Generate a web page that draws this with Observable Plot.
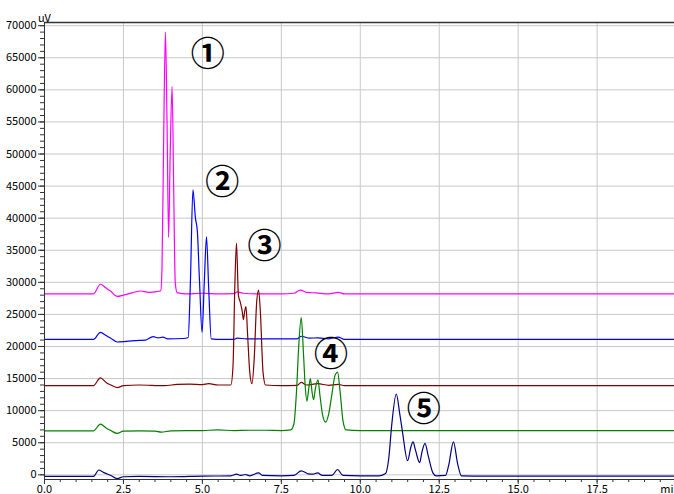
<!DOCTYPE html>
<html>
<head>
<meta charset="utf-8">
<script src="https://cdn.jsdelivr.net/npm/d3@7"></script>
<script src="https://cdn.jsdelivr.net/npm/@observablehq/plot@0.6"></script>
<style>
  html, body { margin: 0; padding: 0; background: #fff; overflow: hidden; }
</style>
</head>
<body>
<div id="chart"></div>
<script>
// ---- data (time in min, signal in uV) ----
const trace1 = [[0,28200],[1.55,28200],[1.77,29700],[1.95,29100],[2.1,28600],[2.3,27800],[2.5,28000],[2.8,28400],[3.05,28650],[3.3,28450],[3.55,28550],[3.68,28700],[3.72,32000],[3.78,55000],[3.83,69000],[3.88,55000],[3.93,37000],[3.98,50000],[4.04,60500],[4.09,45000],[4.14,30000],[4.2,28400],[4.5,28200],[5.0,28300],[5.5,28200],[6.0,28250],[6.1,28500],[6.3,28300],[6.8,28200],[7.5,28200],[7.9,28300],[8.1,28800],[8.3,28450],[8.6,28350],[9.0,28200],[9.3,28450],[9.5,28200],[10,28200],[12,28200],[15,28200],[19.95,28200]];
const trace2 = [[0,21100],[1.55,21100],[1.77,22200],[1.95,21700],[2.1,21300],[2.3,20700],[2.6,20800],[3.0,20950],[3.2,21000],[3.44,21550],[3.6,21350],[3.75,21450],[3.9,21200],[4.4,21250],[4.55,21400],[4.62,30000],[4.70,44400],[4.78,40000],[4.84,38000],[4.91,30000],[4.99,22200],[5.06,30000],[5.13,37100],[5.2,29000],[5.28,21200],[5.6,21100],[6.0,21100],[6.1,21300],[6.4,21200],[8.0,21200],[8.13,21600],[8.4,21300],[8.65,21350],[9.0,21200],[9.3,21450],[9.5,21100],[12,21100],[15,21100],[19.95,21100]];
const trace3 = [[0,13900],[1.55,13900],[1.77,15100],[1.95,14400],[2.1,14000],[2.3,13600],[2.5,13900],[3.0,14000],[3.8,13900],[4.2,14100],[4.6,14150],[5.0,14050],[5.2,14200],[5.5,14000],[5.9,14000],[5.97,17000],[6.03,30000],[6.08,36100],[6.14,28000],[6.20,26900],[6.26,25500],[6.30,24200],[6.34,25500],[6.38,26200],[6.43,22000],[6.5,16000],[6.57,14200],[6.64,18000],[6.72,27000],[6.78,28800],[6.84,25000],[6.92,16000],[7.0,14000],[7.5,13900],[8.0,13950],[8.13,14400],[8.3,14000],[8.65,14200],[9.0,13950],[9.3,14100],[9.5,13900],[12,13900],[15,13900],[19.95,13900]];
const trace4 = [[0,6850],[1.55,6850],[1.77,7900],[1.95,7300],[2.1,6900],[2.3,6450],[2.5,6800],[3.0,6850],[3.5,6800],[3.7,6650],[4.0,6850],[5.0,6900],[5.5,7000],[6.0,6900],[6.5,6950],[7.0,6950],[7.5,6900],[7.8,7000],[7.9,8000],[7.98,13000],[8.05,20000],[8.13,24500],[8.2,19000],[8.26,13500],[8.31,11500],[8.37,13500],[8.42,15000],[8.47,13000],[8.52,11700],[8.58,13500],[8.66,14800],[8.72,12500],[8.8,9500],[8.9,8200],[9.0,9500],[9.1,12500],[9.2,15500],[9.28,16000],[9.36,13000],[9.45,8500],[9.55,7000],[10,6900],[12,6900],[15,6900],[19.95,6900]];
const trace5 = [[0,-250],[1.55,-250],[1.72,750],[1.9,300],[2.1,-100],[2.3,-580],[2.5,-300],[3.0,-250],[4.0,-300],[5.0,-200],[5.9,-150],[6.08,100],[6.2,-100],[6.36,50],[6.5,-150],[6.78,300],[6.9,-100],[7.5,-150],[7.9,-100],[8.13,620],[8.35,150],[8.5,100],[8.65,300],[8.8,-100],[9.1,-100],[9.28,830],[9.45,-100],[10.0,-150],[10.6,-150],[10.8,200],[10.9,2500],[11.0,8000],[11.14,12600],[11.25,9500],[11.33,6900],[11.5,2200],[11.6,4300],[11.67,5150],[11.75,3800],[11.88,1900],[11.95,3500],[12.05,4900],[12.15,3000],[12.3,300],[12.4,-150],[12.7,-100],[12.8,1500],[12.95,5150],[13.08,1800],[13.2,-150],[14,-200],[19.95,-200]];

const traces = [trace1, trace2, trace3, trace4, trace5];
const traceColors = ["#ff00ff", "#0000ff", "#800000", "#008000", "#000080"];

const peakLabels = ["①", "②", "③", "④", "⑤"];
const peakLabelX = [5.17, 5.63, 6.97, 9.07, 12.01];
const peakLabelY = [65470, 45490, 35560, 18710, 10020];

const xDomain = [0, 19.95];
const yDomain = [-730, 70500];
const xTicks = [0, 2.5, 5, 7.5, 10, 12.5, 15, 17.5];
const xTickLabels = ["0.0", "2.5", "5.0", "7.5", "10.0", "12.5", "15.0", "17.5"];
const xMinorTicks = d3.range(0, 19.96, 0.5);
const yTicks = d3.range(0, 70001, 5000);
const yMinorTicks = d3.range(0, 70001, 1000);

const lineMarks = traces.map((tr, i) =>
  Plot.line(tr, {x: d => d[0], y: d => d[1], stroke: traceColors[i], strokeWidth: 1.2, curve: "monotone-x"})
);

const labelData = peakLabels.map((t, i) => ({t, x: peakLabelX[i], y: peakLabelY[i]}));

const chart = Plot.plot({
  width: 674,
  height: 494,
  marginLeft: 44,
  marginRight: 0,
  marginTop: 22,
  marginBottom: 15,
  style: {fontFamily: "'Noto Sans CJK JP', sans-serif", fontSize: "11px", background: "#fff", color: "#000"},
  x: {domain: xDomain, label: null},
  y: {domain: yDomain, label: null},
  marks: [
    Plot.gridY(yTicks, {stroke: "#c8c8c8", strokeOpacity: 1, strokeWidth: 1}),
    Plot.gridX(xTicks.slice(1), {stroke: "#c8c8c8", strokeOpacity: 1, strokeWidth: 1}),
    Plot.axisY(yMinorTicks, {tickSize: 4, tickFormat: () => "", stroke: "#333", label: null}),
    Plot.axisY(yTicks, {tickSize: 6, tickPadding: 2, tickFormat: d => String(d), stroke: "#333", style: {letterSpacing: "1px"}, label: null}),
    Plot.axisX(xMinorTicks, {tickSize: 3, tickFormat: () => "", stroke: "#333", label: null}),
    Plot.axisX(xTicks, {tickSize: 5, tickPadding: 1, tickFormat: (d, i) => xTickLabels[i], stroke: "#333", style: {letterSpacing: "1px"}, label: null}),
    ...lineMarks,
    Plot.ruleY([yDomain[1]], {stroke: "#333", strokeWidth: 1.5}),
    Plot.ruleY([yDomain[0]], {stroke: "#333", strokeWidth: 1}),
    Plot.ruleX([xDomain[0]], {stroke: "#333", strokeWidth: 1}),
    Plot.text(labelData, {x: "x", y: "y", text: "t", fontSize: 34, fontWeight: "bold", fill: "#000", fontFamily: "'Noto Sans CJK JP'"}),
    Plot.text(["uV"], {frameAnchor: "top-left", text: d => d, textAnchor: "middle", lineAnchor: "bottom", dy: -1, fontSize: 11}),
    Plot.text(["min"], {x: 19.5, frameAnchor: "bottom", text: d => d, textAnchor: "start", lineAnchor: "top", dy: 6, fontSize: 11})
  ]
});
document.getElementById("chart").append(chart);
</script>
</body>
</html>
